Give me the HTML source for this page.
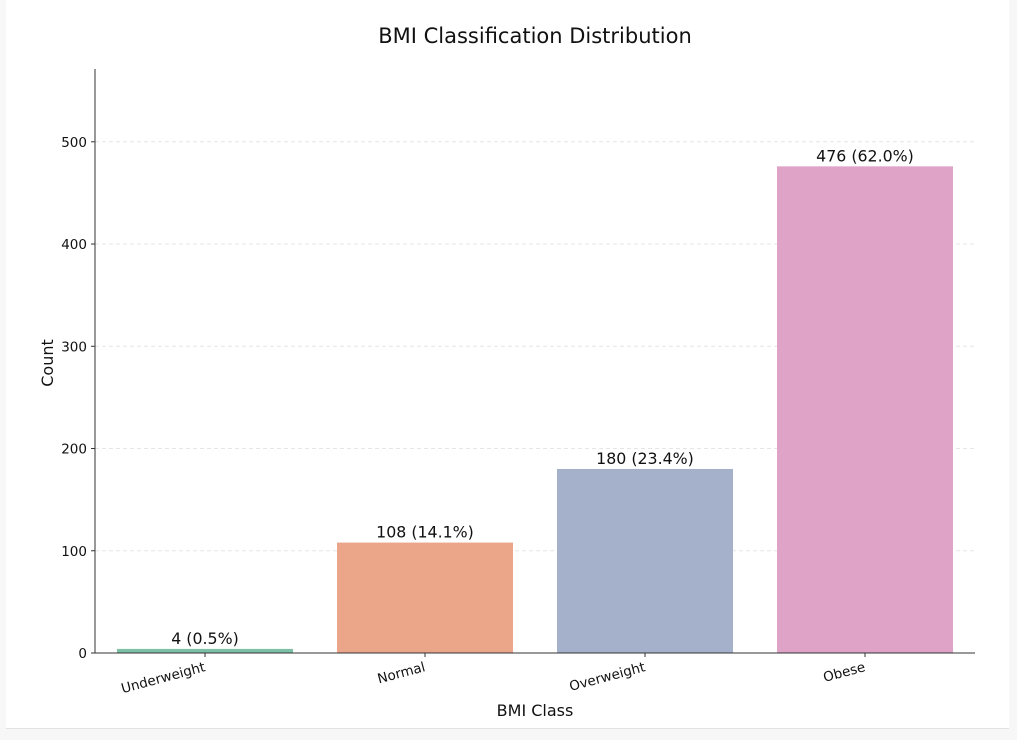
<!DOCTYPE html>
<html><head><meta charset="utf-8"><style>
body{margin:0;background:#f7f7f7;font-family:"Liberation Sans","DejaVu Sans",sans-serif;}
#wrap{position:absolute;left:6px;top:0;width:1003px;height:728px;background:#fff;border-bottom:1px solid #e2e2e2;}
svg{position:absolute;left:0;top:0;}
text{font-family:"DejaVu Sans","Liberation Sans",sans-serif;}
</style></head><body>
<div id="wrap"></div>
<svg id="chart" width="1017" height="740"></svg>
<script>
const categories=["Underweight","Normal","Overweight","Obese"];
const counts=[4,108,180,476];
const percents=["0.5","14.1","23.4","62.0"];
const colors=["#7cc0a6","#eba68a","#a5b0cb","#e0a3c8"];
const yTicks=[0,100,200,300,400,500];
const NS="http://www.w3.org/2000/svg";
const svg=document.getElementById('chart');
const L=95,R=975,T=69,B=653,yMax=571.2;
const y=v=>B-(v/yMax)*(B-T);
const step=(R-L)/categories.length;
const x=i=>L+step*(i+0.5);
function mk(tag,attrs,txt){const e=document.createElementNS(NS,tag);for(const k in attrs)e.setAttribute(k,attrs[k]);if(txt!==undefined)e.textContent=txt;svg.appendChild(e);return e;}
yTicks.forEach(t=>{
  if(t>0){const g=mk('line',{x1:L,x2:R,y1:y(t),y2:y(t),stroke:'#e6e6e6','stroke-dasharray':'4,3','stroke-width':1});
  
  }
  const tk=mk('line',{x1:L-4,x2:L,y1:y(t),y2:y(t),stroke:'#333'});
  
  
  const lb=mk('text',{x:L-8,y:y(t)+5,'text-anchor':'end','font-size':13.5,fill:'#111'},t);
  
  
});
categories.forEach((c,i)=>{
  const w=step*0.8;
  const b=mk('rect',{x:x(i)-w/2,y:y(counts[i]),width:w,height:B-y(counts[i]),fill:colors[i]});
  
  
  const v=mk('text',{x:x(i),y:y(counts[i])-5,'text-anchor':'middle','font-size':15.8,fill:'#111'},counts[i]+' ('+percents[i]+'%)');
  
  
  const tk=mk('line',{x1:x(i),x2:x(i),y1:B,y2:B+4,stroke:'#333'});
  
  
  const lb=mk('text',{x:x(i),y:B+18,'text-anchor':'end','font-size':13.5,fill:'#111',transform:'rotate(-15 '+x(i)+' '+(B+14)+')'},c);
  
  
});
const ax1=mk('line',{x1:L,x2:L,y1:T,y2:B,stroke:'#333'});


const ax2=mk('line',{x1:L,x2:R,y1:B,y2:B,stroke:'#333'});


const t=mk('text',{x:535,y:43,'text-anchor':'middle','font-size':21,fill:'#111'},'BMI Classification Distribution');


const xt=mk('text',{x:535,y:716,'text-anchor':'middle','font-size':16,fill:'#111'},'BMI Class');


const yt=mk('text',{x:53,y:363,'text-anchor':'middle','font-size':16,fill:'#111',transform:'rotate(-90 53 363)'},'Count');


</script>
</body></html>
